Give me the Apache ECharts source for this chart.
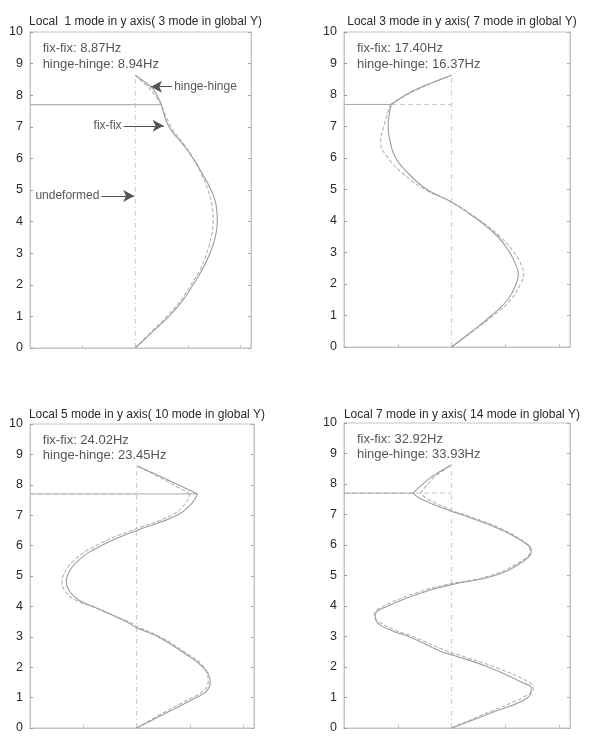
<!DOCTYPE html>
<html>
<head>
<meta charset="utf-8">
<script src="https://cdn.jsdelivr.net/npm/echarts@6/dist/echarts.min.js"></script>
<style>
  html, body { margin: 0; padding: 0; background: #fff; }
  #chart { width: 595px; height: 741px; }
</style>
</head>
<body>
<div id="chart"></div>
<script>
// Lateral deflection of the column (x) against height (y) for four local modes.

const panelTitles = [
  'Local  1 mode in y axis( 3 mode in global Y)',
  'Local 3 mode in y axis( 7 mode in global Y)',
  'Local 5 mode in y axis( 10 mode in global Y)',
  'Local 7 mode in y axis( 14 mode in global Y)'
];

const fixFixHz     = ['8.87', '17.40', '24.02', '32.92'];
const hingeHingeHz = ['8.94', '16.37', '23.45', '33.93'];

// Local mode 1
const heights1    = [0, 0.5, 1, 1.5, 2, 2.5, 3, 3.5, 4, 4.5, 5, 5.5, 6, 6.5, 7, 7.7, 8.2, 8.63];
const fixFix1     = [0, 0.16, 0.32, 0.45, 0.55, 0.64, 0.71, 0.76, 0.78, 0.77, 0.72, 0.64, 0.55, 0.44, 0.32, 0.25, 0.17, 0];
const hingeHinge1 = [0, 0.15, 0.30, 0.43, 0.53, 0.62, 0.68, 0.72, 0.74, 0.73, 0.69, 0.63, 0.55, 0.45, 0.34, 0.25, 0.14, 0];

// Local mode 3
const heights2    = [0, 0.5, 1, 1.5, 2, 2.3, 2.5, 3, 3.5, 4, 4.6, 5, 5.5, 6, 6.5, 7, 7.7, 8, 8.3, 8.63];
const fixFix2     = [0, 0.19, 0.37, 0.52, 0.60, 0.62, 0.61, 0.54, 0.43, 0.26, 0, -0.23, -0.40, -0.52, -0.57, -0.59, -0.56, -0.43, -0.25, 0];
const hingeHinge2 = [0, 0.20, 0.39, 0.55, 0.64, 0.67, 0.66, 0.58, 0.45, 0.27, 0, -0.25, -0.45, -0.59, -0.66, -0.63, -0.57, -0.42, -0.24, 0];

// Local mode 5
const heights3    = [0, 0.5, 1, 1.2, 1.5, 2, 2.5, 3, 3.3, 3.5, 4, 4.2, 4.5, 4.8, 5, 5.5, 6, 6.5, 7, 7.4, 7.7, 8.2, 8.63];
const fixFix3     = [0, 0.28, 0.56, 0.65, 0.69, 0.62, 0.43, 0.20, 0, -0.10, -0.41, -0.54, -0.63, -0.66, -0.65, -0.55, -0.33, 0, 0.38, 0.52, 0.57, 0.27, 0];
const hingeHinge3 = [0, 0.25, 0.52, 0.62, 0.67, 0.63, 0.45, 0.22, 0.03, -0.08, -0.42, -0.57, -0.67, -0.70, -0.69, -0.59, -0.38, -0.05, 0.33, 0.46, 0.50, 0.24, 0];

// Local mode 7
const heights4    = [0, 0.5, 1, 1.3, 1.5, 2, 2.4, 2.5, 3, 3.2, 3.5, 3.7, 4, 4.5, 4.7, 5, 5.5, 5.8, 6, 6.5, 7, 7.1, 7.5, 7.7, 8.2, 8.63];
const fixFix4     = [0, 0.37, 0.71, 0.74, 0.65, 0.34, 0, -0.09, -0.40, -0.56, -0.70, -0.71, -0.59, -0.22, 0, 0.40, 0.68, 0.74, 0.71, 0.46, 0.09, 0, -0.28, -0.36, -0.20, 0];
const hingeHinge4 = [0, 0.33, 0.66, 0.76, 0.72, 0.40, 0.06, -0.03, -0.36, -0.52, -0.68, -0.72, -0.63, -0.27, -0.05, 0.36, 0.66, 0.73, 0.71, 0.48, 0.12, 0.03, -0.22, -0.29, -0.17, 0];

const yTicks = [0, 1, 2, 3, 4, 5, 6, 7, 8, 9, 10];

const beamHeight  = 7.7;
const columnTop   = 8.63;
const xMin = -1, xMax = 1.1;

const panels = [
  { h: heights1, fix: fixFix1, hinge: hingeHinge1 },
  { h: heights2, fix: fixFix2, hinge: hingeHinge2 },
  { h: heights3, fix: fixFix3, hinge: hingeHinge3 },
  { h: heights4, fix: fixFix4, hinge: hingeHinge4 }
];

const gridBoxes = [
  { left: 30,  top: 32,  width: 221, height: 316 },
  { left: 344, top: 32,  width: 226, height: 315 },
  { left: 30,  top: 424, width: 224, height: 304 },
  { left: 344, top: 423, width: 226, height: 305 }
];
const titleTops = [11, 11, 404, 404];

const FONT = '"Liberation Sans", Arial, sans-serif';
const TEXT = '#2a2a2a';
const FRAME = '#c4c4c4';

const option = {
  animation: false,
  backgroundColor: '#ffffff',
  title: panelTitles.map((t, i) => ({
    text: t,
    left: gridBoxes[i].left + gridBoxes[i].width / 2,
    top: titleTops[i],
    textAlign: 'center',
    textStyle: { fontFamily: FONT, fontSize: 12, fontWeight: 'normal', color: TEXT }
  })),
  grid: gridBoxes.map(g => Object.assign({ show: true, borderColor: FRAME, borderWidth: 1, containLabel: false }, g)),
  xAxis: gridBoxes.map((g, i) => ({
    type: 'value', gridIndex: i, min: xMin, max: xMax, interval: 0.5,
    axisLine: { show: true, onZero: false, lineStyle: { color: FRAME } },
    axisTick: { show: true, inside: true, length: 3, lineStyle: { color: FRAME } },
    axisLabel: { show: false },
    splitLine: { show: false }
  })),
  yAxis: [],
  series: []
};

gridBoxes.forEach((g, i) => {
  option.yAxis.push({
    type: 'value', gridIndex: i, position: 'left', min: yTicks[0], max: yTicks[yTicks.length - 1], interval: 1,
    axisLine: { show: true, onZero: false, lineStyle: { color: FRAME } },
    axisTick: { show: true, inside: true, length: 3, lineStyle: { color: '#999' } },
    axisLabel: { show: true, margin: 7, fontFamily: FONT, fontSize: 12.5, color: TEXT },
    splitLine: { show: false }
  });
  option.yAxis.push({
    type: 'value', gridIndex: i, position: 'right', min: yTicks[0], max: yTicks[yTicks.length - 1], interval: 1,
    axisLine: { show: true, onZero: false, lineStyle: { color: FRAME } },
    axisTick: { show: true, inside: true, length: 3, lineStyle: { color: '#aaa' } },
    axisLabel: { show: false },
    splitLine: { show: false }
  });
});

function lineSeries(i, data, style, extra) {
  return Object.assign({
    type: 'line', xAxisIndex: i, yAxisIndex: i * 2, data: data,
    symbol: 'none', silent: true, lineStyle: style
  }, extra || {});
}

// A mode shape: smooth below the beam joint, nearly straight from the joint to the column top.
function modeShape(i, hs, xs, style, z) {
  const j = hs.indexOf(beamHeight);
  const pts = hs.map((h, k) => [xs[k], h]);
  return [
    lineSeries(i, pts.slice(0, j + 1), style, { smooth: 0.45, z: z }),
    lineSeries(i, pts.slice(j), style, { smooth: 0.2, z: z })
  ];
}

panels.forEach((p, i) => {
  const beamIdx = p.h.indexOf(beamHeight);
  const beamX = p.fix[beamIdx];

  // undeformed column and beam
  option.series.push(lineSeries(i, [[0, 0], [0, columnTop]],
    { color: '#c8c8c8', width: 1, type: [5, 3, 1, 3] }, { z: 1 }));
  option.series.push(lineSeries(i, [[xMin, beamHeight], [0, beamHeight]],
    { color: '#c8c8c8', width: 1, type: [5, 3] }, { z: 1 }));
  // deformed beam
  option.series.push(lineSeries(i, [[xMin, beamHeight], [beamX, beamHeight]],
    { color: '#a9a9a9', width: 1 }, { z: 2 }));

  // mode shapes
  option.series.push(...modeShape(i, p.h, p.hinge, { color: '#b4b4b4', width: 1.1, type: [4, 2] }, 3));
  option.series.push(...modeShape(i, p.h, p.fix, { color: '#9c9c9c', width: 1.1 }, 4));

  // frequency notes
  option.series.push({
    type: 'scatter', xAxisIndex: i, yAxisIndex: i * 2, symbolSize: 0, silent: true, z: 6,
    data: [[-0.88, 9.47, 'fix-fix: ' + fixFixHz[i] + 'Hz'], [-0.88, 8.96, 'hinge-hinge: ' + hingeHingeHz[i] + 'Hz']],
    label: {
      show: true, position: 'right', distance: 0,
      formatter: q => q.value[2],
      fontFamily: FONT, fontSize: 13, color: TEXT
    }
  });
});

// pointers to the curves in the first panel
const pointerNotes = [
  { text: 'hinge-hinge', at: [0.37, 8.27], side: 'right' },
  { text: 'fix-fix',     at: [-0.13, 7.03], side: 'left' },
  { text: 'undeformed',  at: [-0.34, 4.81], side: 'left' }
];
const pointerArrows = [
  [[0.35, 8.27], [0.15, 8.27]],
  [[-0.11, 7.03], [0.27, 7.03]],
  [[-0.32, 4.81], [-0.01, 4.81]]
];

option.series.push({
  type: 'scatter', xAxisIndex: 0, yAxisIndex: 0, symbolSize: 0, silent: true, z: 6,
  data: pointerNotes.map(n => ({
    value: [n.at[0], n.at[1], n.text],
    label: { position: n.side }
  })),
  label: {
    show: true, distance: 0,
    formatter: q => q.value[2],
    fontFamily: FONT, fontSize: 12, color: TEXT
  },
  markLine: {
    silent: true, animation: false,
    symbol: ['none', 'arrow'], symbolSize: [9, 11],
    label: { show: false },
    lineStyle: { color: '#555', width: 1, type: 'solid' },
    data: pointerArrows.map(a => [{ coord: a[0] }, { coord: a[1] }])
  }
});

const chart = echarts.init(document.getElementById('chart'), null, { renderer: 'canvas' });
chart.setOption(option);
</script>
</body>
</html>
